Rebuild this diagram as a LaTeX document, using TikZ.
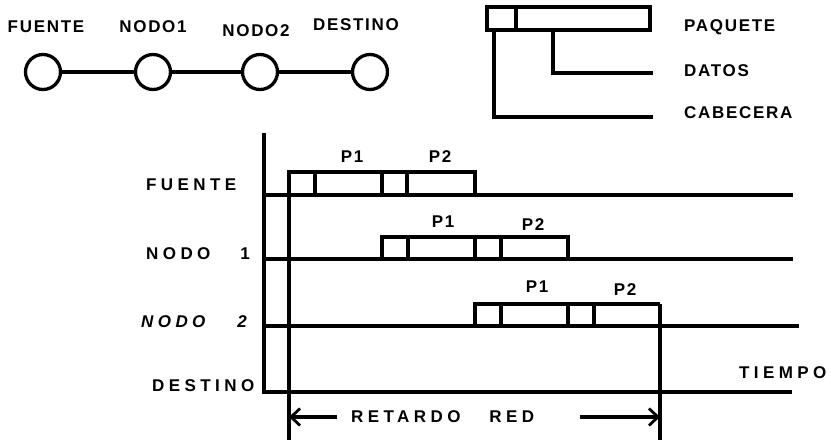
\documentclass[tikz,border=0pt]{standalone}
\usepackage{fontspec}
\setmainfont{Liberation Sans}
\newfontfamily\tituloFont{Liberation Sans}[LetterSpace=10]
\newfontfamily\rotuloFont{Liberation Sans}[LetterSpace=26]
\usepackage{tikz}
\usetikzlibrary{arrows.meta}

\begin{document}
\begin{tikzpicture}[
    x=1pt, y=-1pt,
    trazo/.style={line width=3.3pt, line join=miter},
    nodo/.style={circle, draw, line width=3.3pt, minimum size=35pt, inner sep=0pt},
    etiq/.style={inner sep=0pt, font=\fontsize{17}{19}\tituloFont\bfseries},
    rotulo/.style={inner sep=0pt, font=\fontsize{17}{19}\rotuloFont\bfseries},
    flecha/.style={line width=3.3pt, -{Straight Barb[length=9pt, width=17pt, line width=2.8pt]}}
]
    \useasboundingbox (0,0) rectangle (831,440);

    % Red: fuente - nodos - destino
    \node[nodo] (fuente) at (43,72) {};
    \node[nodo] (nodo1) at (153,72) {};
    \node[nodo] (nodo2) at (260,72) {};
    \node[nodo] (destino) at (370,72) {};
    \draw[trazo] (fuente) -- (nodo1);
    \draw[trazo] (nodo1) -- (nodo2);
    \draw[trazo] (nodo2) -- (destino);

    \node[etiq] (lfuente) at (46,27) {FUENTE};
    \node[etiq] (lnodo1) at (153,27) {NODO1};
    \node[etiq] (lnodo2) at (256,31) {NODO2};
    \node[etiq] (ldestino) at (356,25) {DESTINO};

    % Leyenda del paquete
    \coordinate (cab)  at (494,30);
    \coordinate (dat)  at (553,30);
    \coordinate (fdat) at (653,73);
    \coordinate (fcab) at (653,117);
    \draw[trazo] (487,7) rectangle (650,30);
    \draw[trazo] (516,7) -- (516,30);
    \draw[trazo] (dat) |- (fdat);
    \draw[trazo] (cab) |- (fcab);
    \node[etiq, anchor=west] (lpaquete) at (684,27) {PAQUETE};
    \node[etiq, anchor=west] (ldatos) at (684,71) {DATOS};
    \node[etiq, anchor=west] (lcabecera) at (684,113) {CABECERA};

    % Ejes del diagrama de tiempos
    \coordinate (eje_top) at (264,133);
    \coordinate (eje_org) at (264,392);
    \coordinate (t_fin)   at (792,392);
    \coordinate (ini_top) at (289,172);
    \coordinate (ini_bot) at (289,440);
    \coordinate (fin_top) at (660,304);
    \coordinate (fin_bot) at (660,440);
    \draw[trazo] (eje_top) -- (eje_org) -- (t_fin);
    \draw[trazo] (264,195) -- (793,195);
    \draw[trazo] (264,259) -- (793,259);
    \draw[trazo] (264,326) -- (799,326);
    \draw[trazo] (ini_top) -- (ini_bot);
    \draw[trazo] (fin_top) -- (fin_bot);

    % Paquetes (cabecera + datos)
    \draw[trazo] (289,195) |- (475,172) -- (475,195);
    \draw[trazo] (315,195) -- (315,172) (382,195) -- (382,172) (407,195) -- (407,172);
    \draw[trazo] (382,259) |- (568,237) -- (568,259);
    \draw[trazo] (408,259) -- (408,237) (475,259) -- (475,237) (501,259) -- (501,237);
    \draw[trazo] (475,326) |- (660,304);
    \draw[trazo] (501,326) -- (501,304) (568,326) -- (568,304) (594,326) -- (594,304);

    % Etiquetas P1 / P2
    \node[etiq] (p1a) at (352,157) {P1};
    \node[etiq] (p2a) at (440,157) {P2};
    \node[etiq] (p1b) at (443,222) {P1};
    \node[etiq] (p2b) at (533,225) {P2};
    \node[etiq] (p1c) at (537,287) {P1};
    \node[etiq] (p2c) at (625,290) {P2};

    % Rotulos de las lineas
    \node[rotulo, anchor=west] (rfuente) at (146,185) {FUENTE};
    \node[rotulo, anchor=west] (rnodo1) at (146,254) {NODO\hspace{30pt}1};
    \node[rotulo, anchor=west] (rnodo2) at (141,322) {\itshape NODO\hspace{32pt}2};
    \node[rotulo, anchor=west] (rdestino) at (152,386) {DESTINO};
    \node[rotulo, anchor=west] (tiempo) at (739,373) {TIEMPO};

    % Retardo de red
    \node[rotulo, anchor=west] (retardo) at (351,417) {RETARDO\hspace{29pt}RED};
    \coordinate (ret_izq) at (289,417);
    \coordinate (ret_der) at (660,417);
    \coordinate (ret_a) at (337,417);
    \coordinate (ret_b) at (580,417);
    \draw[flecha] (ret_a) -- (ret_izq);
    \draw[flecha] (ret_b) -- (ret_der);
\end{tikzpicture}
\end{document}
